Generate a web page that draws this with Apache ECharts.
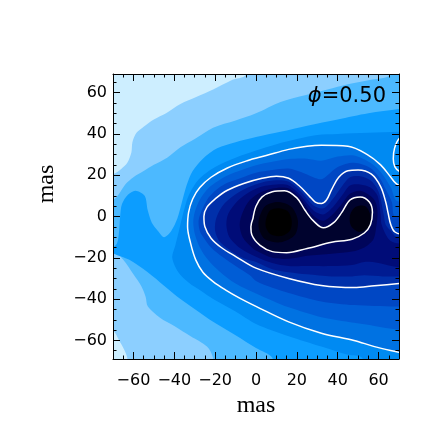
<!DOCTYPE html>
<html>
<head>
<meta charset="utf-8">
<script src="https://cdn.jsdelivr.net/npm/echarts@6/dist/echarts.min.js"></script>
<style>
html, body { margin: 0; padding: 0; background: #fff; }
#chart { width: 432px; height: 432px; }
</style>
</head>
<body>
<div id="chart"></div>
<script>
// axis ticks (mas)
const majorTicks = [-60, -40, -20, 0, 20, 40, 60];
const minorTicks = [-65, -60, -55, -50, -45, -40, -35, -30, -25, -20, -15, -10, -5, 0, 5, 10, 15, 20, 25, 30, 35, 40, 45, 50, 55, 60, 65];

// white contour lines, [x, y] in mas
const outerLine = [[73,-66.5],[70,-65.8],[58,-63],[48,-60],[32,-56.5],[16,-51],[0,-43.5],[-8,-39.5],[-15,-35.5],[-21,-31.5],[-26,-27],[-29.5,-21],[-32,-13],[-33.5,-5],[-33,2],[-31,8.5],[-27.5,14],[-22,19],[-14,23.5],[-4.3,27],[5,29.5],[16,32.5],[25,34],[32,34.5],[45,34],[54.5,30],[61,25],[66,19],[68.5,16],[73,13.5]];
const middleLine = [[73,-32.3],[70,-32.5],[58,-33.5],[48,-34.4],[32,-33.4],[16,-30],[0,-25],[-9.7,-19.5],[-17,-15],[-22,-10.5],[-25,-5],[-25.5,0],[-24,4.5],[-20,8.5],[-14,12.7],[-6,16],[3,18.5],[10,19.5],[16,18.5],[21,15],[26,10],[29,7],[32,6.3],[34.5,8],[37,13],[40.5,19],[45,22.2],[50,22.5],[56.5,20.5],[61,14.5],[63.5,7],[64.7,1.5],[66,-4],[68,-7.5],[73,-9]];
const innerLine = [[-1.5,-1],[0,5],[3,9.5],[8,12],[14,12.5],[20,9],[24,3],[28,-2],[33,-5.5],[38,-3],[42,2],[46,8],[51,9.5],[55.5,7],[57,2],[56,-4],[53,-8],[47,-11],[37,-12.5],[25,-15.5],[15,-17.5],[8,-17],[2,-14],[-2,-9],[-2.5,-5],[-1.5,-1]];
const edgeArc = [[73,38.5],[70,37.7],[67.8,33],[67.2,28],[68,24],[70,22],[73,21]];

// filled contour levels, outermost first, [x, y] in mas
const level0 = [[-80,-80],[80,-80],[80,80],[-80,80]];
const level1 = [[-2,80],[-5,68.5],[-12,66],[-21,61.5],[-29,58],[-37,54.5],[-44,50],[-50,47],[-55,43.5],[-58.5,40.5],[-60.5,36],[-61,31],[-63,26],[-66,23],[-70,20.5],[-80,19.5],[-80,-55],[-70,-55.5],[-67,-60],[-64.5,-64.5],[-63,-68.5],[-62,-80],[80,-80],[80,80]];
const level2 = [[72,80],[66,68.5],[55,66],[45,64],[35,61.5],[25,59],[12,55.5],[0,50],[-10,46.5],[-21,43],[-30,37.5],[-37,33.5],[-43.5,28.5],[-50,25],[-55,22],[-60,19],[-64,15.5],[-67,11],[-70,8],[-80,7],[-80,-15],[-70,-16],[-65,-21],[-60,-28],[-56,-34],[-54,-39],[-53,-43.5],[-47,-49],[-40,-53],[-32,-58],[-24,-63],[-21,-68.5],[-20,-80],[80,-80]];
const level3 = [[80,53],[70,52],[55,50],[40,47],[25,44],[12,41],[0,38.5],[-10,36],[-19,33],[-26,28],[-31,22],[-34,15],[-36.5,6],[-38.5,-1],[-41.5,-7],[-45,-10],[-48,-7],[-51,-3],[-53,3],[-54.5,10],[-59,12.5],[-62.7,10.5],[-65.6,6],[-66.5,0],[-67,-7],[-68,-13],[-71,-17],[-62,-21],[-53,-27],[-45,-33.5],[-37,-40],[-29,-45.5],[-21,-51],[-10,-57.5],[0,-63.7],[8,-68.5],[10,-80],[80,-80]];
const level4 = [[80,41],[70,41],[55,40.5],[40,40],[30,39.5],[20,37.5],[10,35],[0,32],[-10,28.5],[-20,24],[-28,18],[-33,10],[-35.5,2],[-37.5,-6],[-39.5,-14],[-41,-20],[-38,-27],[-33,-32],[-27,-36],[-21,-40],[-10,-46],[0,-52],[16,-58],[32,-63],[45,-67],[52,-68.5],[54,-80],[80,-80]];
const level5 = outerLine.concat([[80,13.5],[80,-66.5]]);
const level6 = [[80,7],[69,7.5],[66,14],[61,21.5],[56,26],[48,29.5],[40,29],[32,27],[25,28],[16,27.8],[8,26.5],[0,24.8],[-7,22.5],[-14,19.9],[-19,17],[-23,14],[-27.3,8.5],[-30,2],[-30.7,-3],[-29.8,-9],[-27.5,-15],[-23.5,-21],[-18,-26.5],[-10,-32.5],[0,-37.3],[8,-40.8],[16,-44],[32,-48.8],[48,-51.5],[58,-53],[69,-54.7],[80,-55]];
const level7 = [[80,0],[68,0],[66.5,7],[63,14],[61,18],[56,23.5],[48,26],[40,24],[35,20],[32,18],[28,19],[22,21.5],[16,23.2],[8,22.5],[0,21.2],[-7,18.8],[-14,16.3],[-18,14],[-21,11.5],[-23.7,8.5],[-26.5,3],[-28.1,-2],[-27.5,-7],[-25.8,-10],[-22,-15],[-16.5,-19.5],[-10,-24],[-3,-28.5],[0,-31.2],[8,-34.5],[16,-37],[32,-41.1],[48,-42.9],[58,-43.3],[69,-43.6],[80,-43.6]];
const level8 = middleLine.concat([[80,-9],[80,-32.3]]);
const level9 = [[80,-10],[69,-10],[66,-7],[63.5,-4],[62.5,1],[60,12],[56,17.5],[51,19.5],[46,19],[42,14.5],[38,9],[33,4],[28,5.5],[22,12],[16,16.8],[10,17.5],[3,16.5],[-4,14],[-11,10],[-16.5,5],[-19.5,-1],[-20,-7],[-17.5,-12.5],[-11,-17.5],[-4,-21],[0,-22],[8,-25.5],[16,-27],[25,-28],[37,-29],[47,-29],[53,-28.5],[62,-29],[69,-29],[80,-29]];
const level10 = [[80,-13],[69,-13],[65,-11],[61.5,-4],[61,1],[59.5,10],[56,14],[51,15.5],[46,15],[42,10],[38,5],[33,1],[28,3],[22,10],[16,15],[10,15.5],[3,14.5],[-3,12],[-9,7.5],[-13.5,1.5],[-14.5,-4],[-13,-10],[-7.5,-15.5],[0,-19.5],[8,-22.5],[16,-24],[25,-24],[37,-24],[47,-23.5],[53,-22],[60,-22.5],[69,-24.5],[80,-24.5]];
const level11 = [[59,-4],[59.5,2],[58.5,7],[56,10],[51,12.5],[46,11],[42,6],[38,1.5],[33,-2],[28,0.5],[22,8.5],[16,13.5],[10,13.8],[3,12],[-3,8],[-6.5,2],[-8,-4],[-6.5,-10],[-2,-15],[0,-16.5],[8,-20],[16,-20.5],[25,-19],[37,-18],[47,-17],[53,-15],[57.5,-11]];
const level12 = innerLine;
const level13 = [[46,0.5],[48.5,4.5],[53.5,5],[56,0.5],[55,-5],[50.5,-7.5],[46.5,-4.5]];
const level14 = [[1.5,-1],[4.5,5],[11,7],[17.5,4.5],[20.5,-2],[19,-9],[12,-12.5],[4.5,-11],[1.5,-6]];
const level15 = [[5,-1],[7,3],[11,4],[15.5,2.5],[17.5,-2],[16.5,-7],[12,-9.5],[7,-8.5],[4.8,-5]];

const levels = [level0, level1, level2, level3, level4, level5, level6, level7, level8, level9, level10, level11, level12, level13, level14, level15];
const levelColors = ['#cdeeff', '#8ccfff', '#4cb9ff', '#0c9dff', '#008af2', '#0072e2', '#005dd6', '#0047c4', '#0030aa', '#001b92', '#000c78', '#00055a', '#00032e', '#00000f', '#000113', '#000000'];

const fmt = v => (v < 0 ? '\u2212' + (-v) : String(v));
const labelFont = { color: '#000', fontSize: 16, fontFamily: 'DejaVu Sans' };

// one value axis: either major ticks (+ line, labels) or minor ticks only
function makeAxis(pos, range, ticks, len, withLabels, margin, pad) {
  return {
    type: 'value',
    position: pos,
    min: -range,
    max: range,
    z: 10,
    axisLine: { show: len > 5, onZero: false, lineStyle: { color: '#000', width: 1 } },
    axisTick: { show: true, inside: true, length: len, customValues: ticks, lineStyle: { color: '#000', width: 1 } },
    axisLabel: withLabels
      ? Object.assign({ show: true, customValues: majorTicks, formatter: fmt, margin: margin, padding: pad }, labelFont)
      : { show: false },
    splitLine: { show: false }
  };
}

const xBottom = makeAxis('bottom', 70, majorTicks, 7, true, 14, 0);
xBottom.name = 'mas';
xBottom.nameLocation = 'middle';
xBottom.nameGap = 32;
xBottom.nameTextStyle = { color: '#000', fontSize: 24, fontFamily: 'Liberation Serif' };

const chart = echarts.init(document.getElementById('chart'));

chart.setOption({
  animation: false,
  backgroundColor: '#fff',
  grid: { left: 113, top: 74, width: 286, height: 285, containLabel: false, outerBoundsMode: 'none' },
  xAxis: [
    xBottom,
    makeAxis('bottom', 70, minorTicks, 3.5, false),
    makeAxis('top', 70, majorTicks, 7, false),
    makeAxis('top', 70, minorTicks, 3.5, false)
  ],
  yAxis: [
    makeAxis('left', 69, majorTicks, 7, true, 6, [5, 0, 0, 0]),
    makeAxis('left', 69, minorTicks, 3.5, false),
    makeAxis('right', 69, majorTicks, 7, false),
    makeAxis('right', 69, minorTicks, 3.5, false)
  ],
  graphic: [
    {
      type: 'text', x: 47, y: 184, rotation: Math.PI / 2,
      style: { text: 'mas', fill: '#000', font: '24px "Liberation Serif"', align: 'center', verticalAlign: 'middle' }
    },
    {
      type: 'text', x: 386, y: 97, z: 100,
      style: {
        text: '{p|\u03d5}=0.50', fill: '#000', font: '21px "DejaVu Sans"', align: 'right', verticalAlign: 'middle',
        rich: { p: { fontStyle: 'italic', fontSize: 21, fontFamily: 'DejaVu Sans', fill: '#000' } }
      }
    }
  ],
  series: [
    {
      type: 'custom',
      clip: true,
      silent: true,
      z: 1,
      data: levels.map((l, i) => [0, 0, i]),
      encode: { x: 0, y: 1 },
      renderItem: function (params, api) {
        const i = params.dataIndex;
        return {
          type: 'polygon',
          shape: { points: levels[i].map(p => api.coord(p)), smooth: 0.3 },
          style: { fill: levelColors[i] }
        };
      }
    },
    ...[outerLine, middleLine, innerLine, edgeArc].map(line => ({
      type: 'line',
      data: line,
      smooth: 0.35,
      symbol: 'none',
      silent: true,
      clip: true,
      z: 3,
      lineStyle: { color: '#fff', width: 1.5 }
    }))
  ]
});
</script>
</body>
</html>
